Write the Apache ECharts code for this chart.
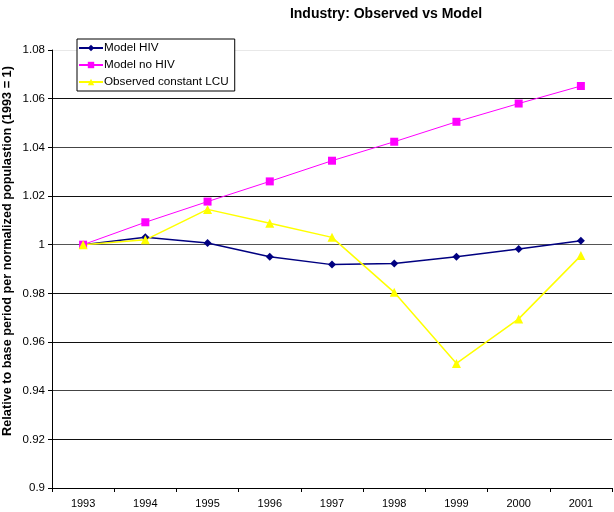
<!DOCTYPE html>
<html>
<head>
<meta charset="utf-8">
<script src="https://cdn.jsdelivr.net/npm/echarts@6/dist/echarts.min.js"></script>
<style>
  html, body { margin: 0; padding: 0; background: #fff; }
  #chart { width: 614px; height: 512px; }
</style>
</head>
<body>
<div id="chart"></div>
<script>
var years = ['1993', '1994', '1995', '1996', '1997', '1998', '1999', '2000', '2001'];
var modelHiv = [1.000, 1.003, 1.0007, 0.995, 0.9918, 0.9923, 0.995, 0.9982, 1.0016];
var modelNoHiv = [1.000, 1.0092, 1.0177, 1.026, 1.0345, 1.0423, 1.0505, 1.058, 1.0652];
var observed = [1.000, 1.002, 1.0145, 1.0088, 1.003, 0.9804, 0.9512, 0.9695, 0.9955];
var seriesNames = ['Model HIV', 'Model no HIV', 'Observed constant LCU'];

var font = 'Arial, "Liberation Sans", sans-serif';

// grid lines from 0.9 up to 1.08, the top one is faint
var splitColors = ['#000', '#111', '#444', '#111', '#111', '#555', '#111', '#444', '#111', '#e8e8e8'];

var option = {
    animation: false,
    backgroundColor: '#fff',
    title: {
        text: 'Industry: Observed vs Model',
        left: 381,
        top: 2,
        textAlign: 'center',
        textStyle: { fontFamily: font, fontSize: 14, fontWeight: 'bold', color: '#000' }
    },
    legend: {
        orient: 'vertical',
        left: 77,
        top: 39,
        padding: [3, 6, 3, 1],
        itemGap: 5,
        itemWidth: 24,
        itemHeight: 8,
        borderColor: '#000',
        borderWidth: 1,
        backgroundColor: '#fff',
        data: seriesNames,
        textStyle: { fontFamily: font, fontSize: 11.7, color: '#000', padding: [0, 0, 0, -4] }
    },
    grid: { left: 52, right: 2, top: 50, bottom: 24, outerBoundsMode: 'none' },
    xAxis: {
        type: 'category',
        data: years,
        boundaryGap: true,
        axisLine: { lineStyle: { color: '#000', width: 1 } },
        axisTick: { show: true, interval: 0, length: 4, lineStyle: { color: '#000' } },
        axisLabel: { fontFamily: font, fontSize: 11, color: '#000', margin: 10 }
    },
    yAxis: {
        type: 'value',
        min: 0.9,
        max: 1.08,
        interval: 0.02,
        name: 'Relative to base period per normalized populastion (1993 = 1)',
        nameLocation: 'middle',
        nameGap: 38,
        nameMoveOverlap: false,
        nameTextStyle: { fontFamily: font, fontSize: 12.7, fontWeight: 'bold', color: '#000', padding: [0, 0, 0, 36] },
        axisLine: { show: true, lineStyle: { color: '#000', width: 1 } },
        axisTick: { show: true, length: 4, lineStyle: { color: '#000' } },
        axisLabel: {
            fontFamily: font, fontSize: 11.5, color: '#000', margin: 7,
            formatter: function (v) { return String(parseFloat(v.toFixed(2))); }
        },
        splitLine: { show: true, lineStyle: { color: splitColors, width: 1 } }
    },
    series: [
        {
            name: seriesNames[0],
            type: 'line',
            data: modelHiv,
            symbol: 'diamond',
            symbolSize: 8,
            lineStyle: { color: '#000080', width: 1.5 },
            itemStyle: { color: '#000080' }
        },
        {
            name: seriesNames[1],
            type: 'line',
            data: modelNoHiv,
            symbol: 'rect',
            symbolSize: 8,
            lineStyle: { color: '#ff00ff', width: 1 },
            itemStyle: { color: '#ff00ff' }
        },
        {
            name: seriesNames[2],
            type: 'line',
            data: observed,
            symbol: 'triangle',
            symbolSize: 9,
            lineStyle: { color: '#ffff00', width: 1.5 },
            itemStyle: { color: '#ffff00' }
        }
    ]
};

var myChart = echarts.init(document.getElementById('chart'));
myChart.setOption(option);
</script>
</body>
</html>
